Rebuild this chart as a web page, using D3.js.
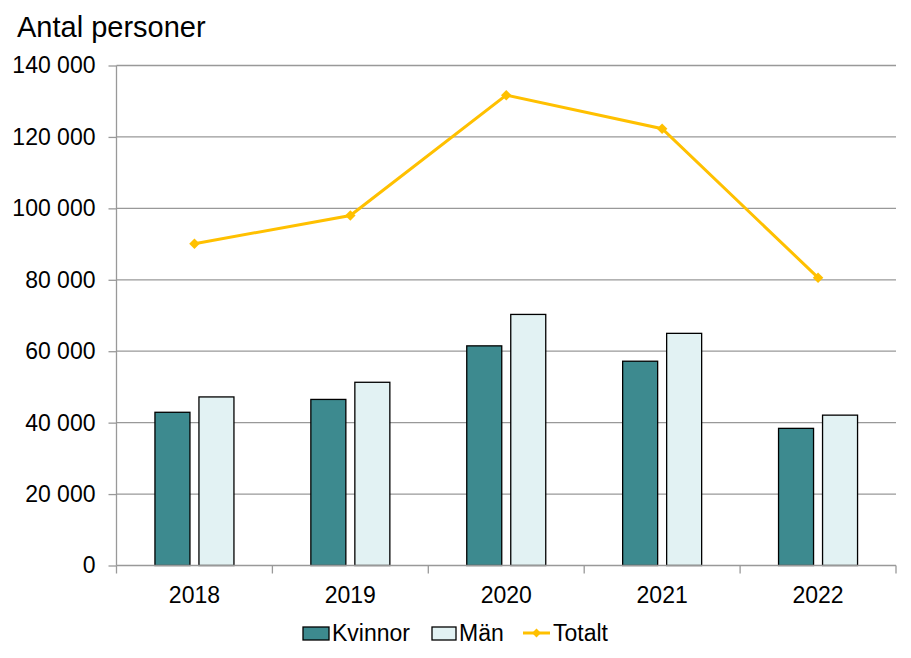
<!DOCTYPE html>
<html>
<head>
<meta charset="utf-8">
<script src="https://cdn.jsdelivr.net/npm/d3@7"></script>
<style>
body { margin: 0; background: #fff; }
text { font-family: "Liberation Sans", Arial, sans-serif; fill: #000; }
</style>
</head>
<body>
<div id="chart"></div>
<script>
var years = ["2018", "2019", "2020", "2021", "2022"];
var kvinnor = [42900, 46500, 61500, 57200, 38400];
var man = [47200, 51300, 70300, 65000, 42100];
var totalt = [90100, 98000, 131700, 122300, 80600];
var yTicks = [0, 20000, 40000, 60000, 80000, 100000, 120000, 140000];

var W = 911, H = 658;
var pL = 116.5, pR = 896, pT = 65.5, pB = 565.5;

var svg = d3.select("#chart").append("svg")
    .attr("width", W)
    .attr("height", H);

var x = d3.scaleBand().domain(years).range([pL, pR]);
var y = d3.scaleLinear().domain([0, 140000]).range([pB, pT]);

var fmt = function(v) { return d3.format(",")(v).replace(/,/g, " "); };

// grid
svg.append("g").selectAll("line")
    .data(yTicks.filter(function(d) { return d > 0; }))
    .enter().append("line")
    .attr("x1", pL).attr("x2", pR)
    .attr("y1", function(d) { return y(d); })
    .attr("y2", function(d) { return y(d); })
    .attr("stroke", "#999").attr("stroke-width", 1.3);

// y axis
var yAxis = svg.append("g")
    .attr("transform", "translate(" + pL + ",0)")
    .call(d3.axisLeft(y).tickValues(yTicks).tickFormat(fmt).tickSize(8).tickPadding(13));
yAxis.selectAll("line").attr("stroke", "#999").attr("stroke-width", 1.3);
yAxis.select(".domain").attr("stroke", "#999").attr("stroke-width", 1.3).attr("d", "M0," + pT + "V" + pB);
yAxis.selectAll("text").style("font-size", "23px").style("font-family", "Liberation Sans, Arial, sans-serif").attr("fill", "#000");

// bars
var bw = 35, gap = 9;
var grp = svg.append("g");
grp.selectAll("rect.k").data(years).enter().append("rect")
    .attr("x", function(d) { return x(d) + x.bandwidth() / 2 - gap / 2 - bw; })
    .attr("y", function(d, i) { return y(kvinnor[i]); })
    .attr("width", bw)
    .attr("height", function(d, i) { return pB - y(kvinnor[i]); })
    .attr("fill", "#3d8a8f").attr("stroke", "#000").attr("stroke-width", 1.3);
grp.selectAll("rect.m").data(years).enter().append("rect")
    .attr("x", function(d) { return x(d) + x.bandwidth() / 2 + gap / 2; })
    .attr("y", function(d, i) { return y(man[i]); })
    .attr("width", bw)
    .attr("height", function(d, i) { return pB - y(man[i]); })
    .attr("fill", "#e2f2f3").attr("stroke", "#000").attr("stroke-width", 1.3);

// x axis
svg.append("line")
    .attr("x1", pL).attr("x2", pR).attr("y1", pB).attr("y2", pB)
    .attr("stroke", "#999").attr("stroke-width", 1.3);
var bounds = years.map(function(d) { return x(d); }).concat([pR]);
svg.append("g").selectAll("line").data(bounds).enter().append("line")
    .attr("x1", function(d) { return d; }).attr("x2", function(d) { return d; })
    .attr("y1", pB).attr("y2", pB + 8)
    .attr("stroke", "#999").attr("stroke-width", 1.3);
svg.append("g").selectAll("text").data(years).enter().append("text")
    .attr("x", function(d) { return x(d) + x.bandwidth() / 2; })
    .attr("y", 603)
    .attr("text-anchor", "middle")
    .style("font-size", "23px")
    .text(function(d) { return d; });

// line
var line = d3.line()
    .x(function(d, i) { return x(years[i]) + x.bandwidth() / 2; })
    .y(function(d) { return y(d); });
svg.append("path").datum(totalt)
    .attr("d", line)
    .attr("fill", "none").attr("stroke", "#ffc000").attr("stroke-width", 3);
svg.append("g").selectAll("path").data(totalt).enter().append("path")
    .attr("d", d3.symbol().type(d3.symbolDiamond2).size(70))
    .attr("transform", function(d, i) { return "translate(" + (x(years[i]) + x.bandwidth() / 2) + "," + y(d) + ")"; })
    .attr("fill", "#ffc000");

// title
svg.append("text").attr("x", 17).attr("y", 37)
    .style("font-size", "29px").text("Antal personer");

// legend
var lg = svg.append("g");
lg.append("rect").attr("x", 303).attr("y", 627).attr("width", 26).attr("height", 13)
    .attr("fill", "#3d8a8f").attr("stroke", "#000").attr("stroke-width", 1.3);
lg.append("text").attr("x", 332).attr("y", 641).style("font-size", "23px").text("Kvinnor");
lg.append("rect").attr("x", 432).attr("y", 627).attr("width", 24).attr("height", 13)
    .attr("fill", "#e2f2f3").attr("stroke", "#000").attr("stroke-width", 1.3);
lg.append("text").attr("x", 459).attr("y", 641).style("font-size", "23px").text("Män");
lg.append("line").attr("x1", 523).attr("x2", 550).attr("y1", 633).attr("y2", 633)
    .attr("stroke", "#ffc000").attr("stroke-width", 3);
lg.append("path").attr("d", d3.symbol().type(d3.symbolDiamond2).size(50))
    .attr("transform", "translate(536.5,633)").attr("fill", "#ffc000");
lg.append("text").attr("x", 553).attr("y", 641).style("font-size", "23px").text("Totalt");
</script>
</body>
</html>
